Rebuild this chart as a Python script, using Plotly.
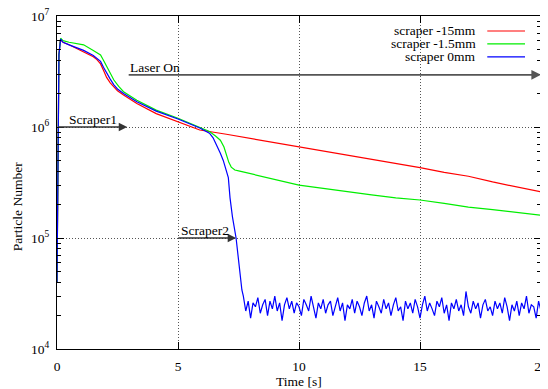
import numpy as np
import plotly.graph_objects as go

# ---------------- data ----------------
t_red = [0, 0.04, 0.08, 0.14, 0.25, 0.5, 1.0, 1.5, 1.65, 1.8, 1.92, 2.05, 2.2, 2.35,
         2.5, 2.75, 3.3, 4.1, 5.0, 5.9, 7.0, 8.0, 9.0, 10, 11, 12, 13, 14, 15, 16,
         17, 18, 19, 20]
n_red = [4e4, 1.5e6, 4.5e6, 6.1e6, 5.8e6, 5.5e6, 4.9e6, 4.3e6, 4.05e6, 3.7e6, 3.25e6,
         2.8e6, 2.5e6, 2.3e6, 2.12e6, 1.94e6, 1.63e6, 1.32e6, 1.12e6, 9.4e5, 8.6e5,
         7.9e5, 7.2e5, 6.6e5, 6.1e5, 5.6e5, 5.1e5, 4.7e5, 4.3e5, 3.9e5, 3.6e5,
         3.2e5, 2.9e5, 2.6e5]

t_green = [0, 0.04, 0.08, 0.15, 0.25, 0.5, 1.1, 1.5, 1.65, 1.8, 1.92, 2.05, 2.2, 2.35,
           2.55, 2.75, 3.3, 4.1, 5.0, 5.9, 6.3, 6.55, 6.75, 6.9, 7.0, 7.1, 7.2, 7.35,
           7.55, 8.0, 9, 10, 11, 12, 13, 14, 15, 16, 17, 18, 19, 20]
n_green = [4e4, 1.5e6, 4.5e6, 6.3e6, 6.0e6, 5.8e6, 5.5e6, 4.9e6, 4.7e6, 4.45e6, 4.0e6,
           3.5e6, 3.05e6, 2.65e6, 2.32e6, 2.08e6, 1.74e6, 1.42e6, 1.2e6, 9.8e5, 9.1e5,
           8.3e5, 7.6e5, 6.6e5, 5.6e5, 4.8e5, 4.35e5, 4.1e5, 4.0e5, 3.8e5, 3.4e5,
           3.0e5, 2.8e5, 2.6e5, 2.45e5, 2.3e5, 2.2e5, 2.05e5, 1.9e5, 1.8e5, 1.7e5,
           1.6e5]

t_blue_head = [0, 0.04, 0.08, 0.15, 0.25, 0.5, 1.1, 1.5, 1.65, 1.8, 1.92, 2.05, 2.2,
               2.35, 2.5, 2.75, 3.3, 4.1, 5.0, 5.9, 6.3, 6.45, 6.6, 6.75, 6.87, 6.97,
               7.08, 7.15, 7.25, 7.4, 7.52, 7.64]
n_blue_head = [4e4, 1.5e6, 4.5e6, 6.2e6, 5.8e6, 5.5e6, 4.9e6, 4.4e6, 4.15e6, 3.9e6,
               3.45e6, 3.05e6, 2.7e6, 2.4e6, 2.2e6, 2.0e6, 1.69e6, 1.39e6, 1.18e6,
               9.8e5, 8.8e5, 8.0e5, 6.9e5, 5.8e5, 5.0e5, 4.3e5, 3.5e5, 2.3e5, 1.55e5,
               1.0e5, 5.5e4, 3.4e4]
# blue tail after Scraper2 (thousands of particles), sampled every 0.1 s from 7.7 s
n_blue_tail_k = [30, 22, 27, 19, 26, 24, 29, 21, 25, 28, 20, 27, 23, 30, 22, 26, 18, 25, 29, 23,
                 27, 21, 26, 24, 20, 28, 25, 22, 30, 24, 19, 26, 23, 28, 21, 25, 27, 20, 24, 29,
                 22, 26, 18, 25, 23, 28, 21, 27, 24, 20, 26, 30, 22, 25, 19, 27, 24, 21, 28, 23,
                 26, 20, 25, 29, 22, 24, 18, 27, 23, 26, 21, 28, 24, 19, 25, 30, 22, 26, 23, 20,
                 27, 24, 29, 21, 25, 18, 26, 23, 28, 22, 25, 20, 33, 24, 21, 27, 23, 26, 19, 25,
                 28, 22, 24, 20, 27, 23, 26, 21, 29, 24, 18, 25, 22, 27, 20, 26, 23, 30, 21, 25,
                 24, 19, 27, 22]
t_blue_tail = list(np.round(7.7 + 0.1 * np.arange(len(n_blue_tail_k)), 2))

t_blue = t_blue_head + t_blue_tail
n_blue = n_blue_head + [v * 1e3 for v in n_blue_tail_k]

series_names = ["scraper -15mm", "scraper -1.5mm", "scraper 0mm"]
series_colors = ["#ff0000", "#00ee00", "#0000ff"]

x_ticks = [0, 5, 10, 15, 20]
y_ticks = [1e4, 1e5, 1e6, 1e7]
y_ticktext = ["10<sup>4</sup>", "10<sup>5</sup>", "10<sup>6</sup>", "10<sup>7</sup>"]

FONT = "Liberation Serif"
FS = 13.5

fig = go.Figure()
for tx, ny, name, col in zip([t_red, t_green, t_blue], [n_red, n_green, n_blue],
                             series_names, series_colors):
    fig.add_trace(go.Scatter(x=tx, y=ny, mode="lines", name=name,
                             line=dict(color=col, width=1.2), showlegend=False))

# gnuplot-style legend: text right-aligned, sample line on the right
leg_y = [0.955, 0.916, 0.877]
for name, col, yy in zip(series_names, series_colors, leg_y):
    fig.add_annotation(xref="paper", yref="paper", x=0.870, y=yy, text=name,
                       showarrow=False, xanchor="right", yanchor="middle",
                       font=dict(family=FONT, size=FS, color="black"))
    fig.add_shape(type="line", xref="paper", yref="paper", x0=0.889, x1=0.967,
                  y0=yy, y1=yy, line=dict(color=col, width=1.2))

arrow_col = "#555555"
# Laser On
fig.add_annotation(x=20, y=6.47, ax=2.9, ay=6.47, axref="x", ayref="y", xref="x", yref="y",
                   text="", showarrow=True, arrowhead=2, arrowsize=1.2, arrowwidth=1.6,
                   arrowcolor=arrow_col)
fig.add_annotation(x=2.95, y=6.47, text="Laser On", showarrow=False, xanchor="left",
                   yanchor="bottom", yshift=-2, font=dict(family=FONT, size=FS, color="black"))
# Scraper1
fig.add_annotation(x=2.9, y=6, ax=0, ay=6, axref="x", ayref="y", xref="x", yref="y",
                   text="", showarrow=True, arrowhead=2, arrowsize=1.2, arrowwidth=1.4,
                   arrowcolor="#333333")
fig.add_annotation(x=0.4, y=6, text="Scraper1", showarrow=False, xanchor="left",
                   yanchor="bottom", yshift=-2, font=dict(family=FONT, size=FS, color="black"))
# Scraper2
fig.add_annotation(x=7.4, y=5, ax=4.95, ay=5, axref="x", ayref="y", xref="x", yref="y",
                   text="", showarrow=True, arrowhead=2, arrowsize=1.2, arrowwidth=1.4,
                   arrowcolor="#333333")
fig.add_annotation(x=5.05, y=5, text="Scraper2", showarrow=False, xanchor="left",
                   yanchor="bottom", yshift=-2, font=dict(family=FONT, size=FS, color="black"))

# axis titles
fig.add_annotation(xref="paper", yref="paper", x=0.5, y=0, yanchor="top", yshift=-23,
                   text="Time [s]", showarrow=False,
                   font=dict(family=FONT, size=FS, color="black"))
fig.add_annotation(xref="paper", yref="paper", x=0, y=0.426, xanchor="center", xshift=-40,
                   textangle=-90, text="Particle Number", showarrow=False,
                   font=dict(family=FONT, size=FS, color="black"))

minor_vals = [m * 10 ** d for d in range(4, 7) for m in range(2, 10)]

# the page body adds an 8 px offset, so the figure itself is 540 x 381
fig.update_layout(
    width=540, height=381,
    margin=dict(l=49, r=7, t=8, b=40, autoexpand=False),
    plot_bgcolor="white", paper_bgcolor="white",
    font=dict(family=FONT, size=FS, color="black"),
)
fig.update_xaxes(
    range=[0, 20], tickvals=x_ticks, ticks="inside", ticklen=7, tickcolor="black",
    showline=True, linecolor="black", linewidth=1, mirror="ticks",
    showgrid=True, gridcolor="#555555", griddash="1px,2px", gridwidth=1, zeroline=False,
    ticklabelstandoff=5, automargin=False, ticklabeloverflow="allow",
    tickfont=dict(family=FONT, size=FS),
)
fig.update_yaxes(
    type="log", range=[4, 7], tickvals=y_ticks, ticktext=y_ticktext,
    ticks="inside", ticklen=7, tickcolor="black",
    showline=True, linecolor="black", linewidth=1, mirror="ticks",
    showgrid=True, gridcolor="#555555", griddash="1px,2px", gridwidth=1, zeroline=False,
    minor=dict(tickvals=minor_vals, ticks="inside", ticklen=4, tickcolor="black",
               showgrid=False),
    ticklabelstandoff=4, automargin=False, ticklabeloverflow="allow",
    tickfont=dict(family=FONT, size=FS),
)

fig.write_html("out.html")
